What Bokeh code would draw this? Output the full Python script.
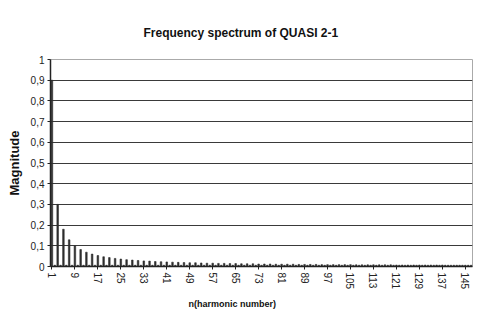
from bokeh.plotting import figure
from bokeh.models import FixedTicker, ColumnDataSource, Title
from bokeh.embed import file_html
from bokeh.resources import INLINE

title_text = "Frequency spectrum of QUASI 2-1"
x_label = "n(harmonic number)"
y_label = "Magnitude"

# odd harmonics 1,3,5,...,147
odd_magnitude = [0.900, 0.300, 0.180, 0.129, 0.100, 0.082, 0.069, 0.060, 0.053, 0.047,
                 0.043, 0.039, 0.036, 0.033, 0.031, 0.029, 0.027, 0.026, 0.024, 0.023,
                 0.022, 0.021, 0.020, 0.019, 0.018, 0.018, 0.017, 0.016, 0.016, 0.015,
                 0.015, 0.014, 0.014, 0.013, 0.013, 0.013, 0.012, 0.012, 0.012, 0.011,
                 0.011, 0.011, 0.011, 0.010, 0.010, 0.010, 0.010, 0.009, 0.009, 0.009,
                 0.009, 0.009, 0.009, 0.008, 0.008, 0.008, 0.008, 0.008, 0.008, 0.008,
                 0.007, 0.007, 0.007, 0.007, 0.007, 0.007, 0.007, 0.007, 0.007, 0.006,
                 0.006, 0.006, 0.006, 0.006]
# even harmonics 2,4,...,146
even_magnitude = [0.006] * 73

odd_n = list(range(1, 148, 2))
even_n = list(range(2, 147, 2))

x_ticks = [1, 9, 17, 25, 33, 41, 49, 57, 65, 73, 81, 89, 97, 105, 113, 121, 129, 137, 145]
y_ticks = [0, 0.1, 0.2, 0.3, 0.4, 0.5, 0.6, 0.7, 0.8, 0.9, 1]
y_tick_labels = ["0", "0,1", "0,2", "0,3", "0,4", "0,5", "0,6", "0,7", "0,8", "0,9", "1"]

n_all = odd_n + even_n
mag_all = odd_magnitude + even_magnitude
src = ColumnDataSource(dict(n=n_all, mag=mag_all))

W, H = 474, 316
p = figure(width=W, height=H, output_backend="svg", toolbar_location=None,
           x_range=(0.5, 147.5), y_range=(0, 1),
           min_border_left=50, min_border_right=2, min_border_top=59, min_border_bottom=50)

p.title.text = title_text
p.title.align = "left"
p.title.offset = 93
p.title.standoff = 36
p.title.vertical_align = "top"
p.title.text_font = "Liberation Sans"
p.title.text_font_size = "12px"
p.title.text_font_style = "bold"
p.title.text_color = "#111111"

p.vbar(x="n", top="mag", width=0.55, source=src, fill_color="#2e2e2e", line_color="#2e2e2e", line_width=0.6)

p.xaxis.ticker = FixedTicker(ticks=x_ticks)
p.xaxis.major_label_orientation = "vertical"
p.yaxis.ticker = FixedTicker(ticks=y_ticks)
p.yaxis.major_label_overrides = {t: l for t, l in zip(y_ticks, y_tick_labels)}

for ax in (p.xaxis, p.yaxis):
    ax.major_label_text_font = "Liberation Sans"
    ax.major_label_text_font_size = "10px"
    ax.major_label_text_color = "#222222"
    ax.axis_line_color = "#222222"
    ax.axis_line_width = 1.5
    ax.major_tick_line_color = "#222222"
    ax.minor_tick_line_color = None
    ax.major_tick_in = 0
    ax.major_tick_out = 3
    ax.axis_label_text_font = "Liberation Sans"
    ax.axis_label_text_font_style = "bold"
    ax.axis_label_text_color = "#111111"

p.yaxis.axis_label = y_label
p.yaxis.axis_label_text_font_size = "13px"
p.yaxis.axis_label_standoff = 6
p.xaxis.major_label_standoff = 3
p.yaxis.major_label_standoff = 3

xt = Title(text=x_label, align="left", offset=138, standoff=8,
           text_font="Liberation Sans", text_font_size="9px", text_font_style="bold",
           text_color="#111111")
p.add_layout(xt, "below")

p.xgrid.grid_line_color = None
p.ygrid.grid_line_color = "#3a3a3a"
p.ygrid.grid_line_width = 1.2
p.outline_line_color = "#aaaaaa"
p.background_fill_color = "white"
p.border_fill_color = "white"

open("out.html", "w").write(file_html(p, INLINE))
